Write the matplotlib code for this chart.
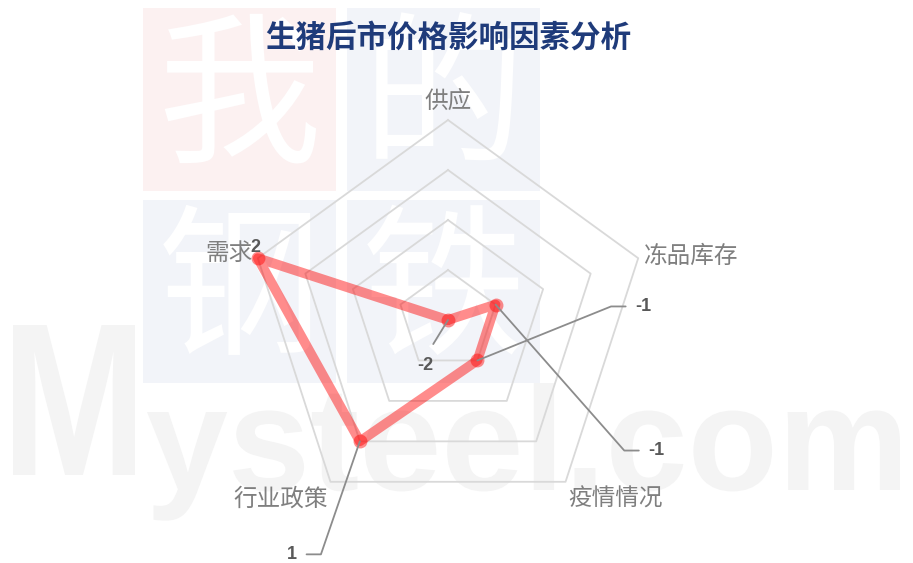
import numpy as np
import matplotlib.pyplot as plt
from matplotlib.textpath import TextPath
from matplotlib.patches import PathPatch, Rectangle
from matplotlib.font_manager import FontProperties
from matplotlib.transforms import Affine2D

plt.rcParams['font.family'] = ['Noto Sans CJK SC', 'DejaVu Sans']

# data
title = "生猪后市价格影响因素分析"
categories = ["供应", "冻品库存", "疫情情况", "行业政策", "需求"]
values = [-2, -1, -1, 1, 2]
rings = [-1, 0, 1, 2]
r_min, r_max = -2, 2

W, H = 913, 563
fig = plt.figure(figsize=(W / 100, H / 100), dpi=100)

# faint watermark in the background (pixel coords, y down)
bg = fig.add_axes([0, 0, 1, 1], zorder=0)
bg.set_xlim(0, W)
bg.set_ylim(H, 0)
bg.axis('off')
blocks = [(143, 8, 193, 183, '#fcf1f1', '我'),
          (347, 8, 193, 183, '#f2f4f9', '的'),
          (143, 200, 193, 183, '#f2f4f9', '钢'),
          (347, 200, 193, 183, '#f2f4f9', '铁')]
for x, y, w, h, c, ch in blocks:
    bg.add_patch(Rectangle((x, y), w, h, facecolor=c, edgecolor='none'))
    bg.text(x + w / 2, y + h / 2 + 4, ch, ha='center', va='center', fontsize=118,
            color='white', fontweight='medium')

wm_color = '#f4f4f4'
fp = FontProperties(family='Liberation Sans', weight='bold')
# big "M"
tm = TextPath((0, 0), "M", size=100, prop=fp)
e = tm.get_extents()
sx, sy = (135 - 13) / e.width, (475 - 325) / e.height
tr = Affine2D().scale(sx, -sy).translate(13 - e.x0 * sx, 475 + e.y0 * sy)
bg.add_patch(PathPatch(tr.transform_path(tm), facecolor=wm_color, edgecolor='none'))
# "ysteel.com"
tl = TextPath((0, 0), "ysteel.com", size=100, prop=fp)
xh = TextPath((0, 0), "x", size=100, prop=fp).get_extents().height
s = 78 / xh
el = tl.get_extents()
tr = Affine2D().scale(s, -s).translate(147 - el.x0 * s, 490)
bg.add_patch(PathPatch(tr.transform_path(tl), facecolor=wm_color, edgecolor='none'))

# radar
cx, cy, R = 448, 320, 200
ax = fig.add_axes([(cx - R) / W, (H - cy - R) / H, 2 * R / W, 2 * R / H],
                  projection='polar', zorder=1)
ax.set_theta_offset(np.pi / 2)
ax.set_theta_direction(-1)
ax.set_ylim(r_min, r_max)
ax.grid(False)
ax.set_xticks([])
ax.set_yticks([])
ax.spines['polar'].set_visible(False)
ax.patch.set_alpha(0)

angles = np.linspace(0, 2 * np.pi, len(categories), endpoint=False)
ang_c = np.append(angles, angles[0])
for rv in rings:
    ax.plot(ang_c, [rv] * len(ang_c), color='#d9d9d9', lw=1.3, zorder=1, clip_on=False)

vals_c = values + values[:1]
ax.plot(ang_c, vals_c, color='red', alpha=0.45, lw=7, solid_joinstyle='round',
        solid_capstyle='round', zorder=3, clip_on=False)
ax.plot(angles, values, 'o', color='red', alpha=0.45, ms=10, mew=0, zorder=4, clip_on=False)

# category labels
cat_pos = [((0, 19), 'center'), ((5, 2), 'left'), ((3, -17), 'left'),
           ((-3, -17), 'right'), ((-5, 5), 'right')]
for a, name, (off, ha) in zip(angles, categories, cat_pos):
    ax.annotate(name, xy=(a, r_max), xytext=off, textcoords='offset pixels',
                ha=ha, va='center', fontsize=17, color='#7f7f7f', annotation_clip=False)

# value labels with leader lines
num_font = dict(family='Liberation Sans', weight='bold', size=13)
lab_specs = [
    dict(xytext=(-23, -46), ha='center',
         arrowprops=dict(arrowstyle='-', color='#8c8c8c', lw=1.3, shrinkA=9, shrinkB=0,
                         relpos=(0.5, 1))),
    dict(xytext=(153, -146), ha='left',
         arrowprops=dict(arrowstyle='-', color='#8c8c8c', lw=1.3, shrinkA=5, shrinkB=0,
                         relpos=(0, 0.5),
                         connectionstyle='angle,angleA=0,angleB=-48.6,rad=0')),
    dict(xytext=(158, 54), ha='left',
         arrowprops=dict(arrowstyle='-', color='#8c8c8c', lw=1.3, shrinkA=5, shrinkB=0,
                         relpos=(0, 0.5),
                         connectionstyle='angle,angleA=0,angleB=22,rad=0')),
    dict(xytext=(-63, -113), ha='right',
         arrowprops=dict(arrowstyle='-', color='#8c8c8c', lw=1.3, shrinkA=5, shrinkB=0,
                         relpos=(1, 0.5),
                         connectionstyle='angle,angleA=0,angleB=71,rad=0')),
    dict(xytext=(-2, 11), ha='center'),
]
for a, v, spec in zip(angles, values, lab_specs):
    ax.annotate(f"{v}", xy=(a, v), textcoords='offset pixels', va='center',
                color='#595959', fontproperties=FontProperties(**num_font),
                annotation_clip=False, zorder=5, **spec)

fig.text(cx / W, 1 - 38 / H, title, ha='center', va='center', fontsize=22,
         fontweight='bold', color='#1f3b7a')

fig.savefig('out.png', dpi=100)
